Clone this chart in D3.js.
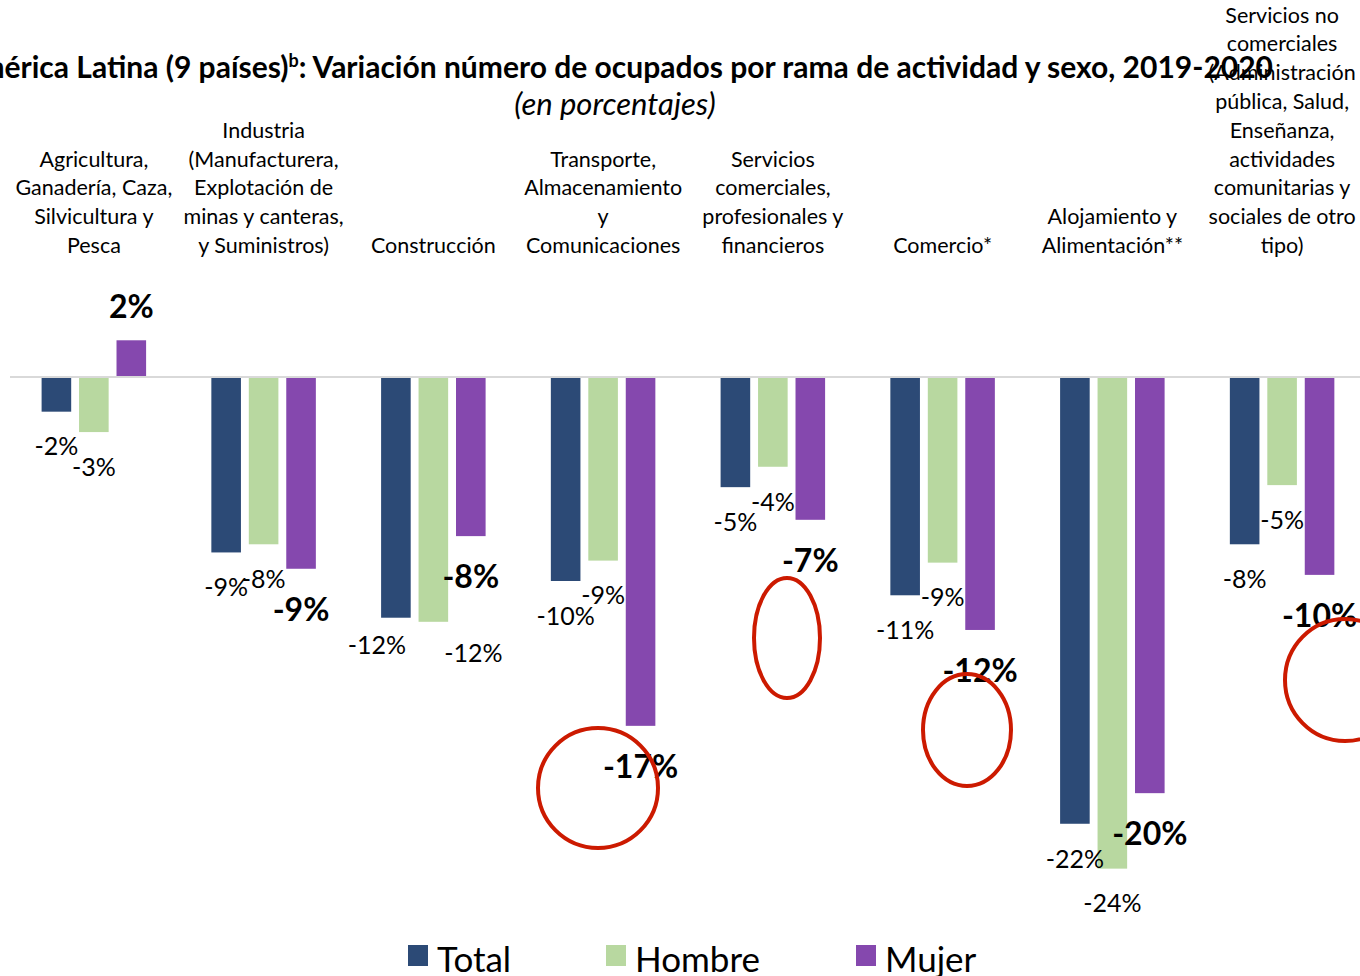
<!DOCTYPE html>
<html>
<head>
<meta charset="utf-8">
<script src="https://cdn.jsdelivr.net/npm/d3@7"></script>
<style>
  html, body { margin: 0; padding: 0; background: #fff; overflow: hidden; }
  text { font-family: Lato, "Open Sans", sans-serif; fill: #000; }
</style>
</head>
<body>
<div id="chart"></div>
<script>
// categories (each label split into its lines)
var categories = [
  ["Agricultura,", "Ganadería, Caza,", "Silvicultura y", "Pesca"],
  ["Industria", "(Manufacturera,", "Explotación de", "minas y canteras,", "y Suministros)"],
  ["Construcción"],
  ["Transporte,", "Almacenamiento", "y", "Comunicaciones"],
  ["Servicios", "comerciales,", "profesionales y", "financieros"],
  ["Comercio*"],
  ["Alojamiento y", "Alimentación**"],
  ["Servicios no", "comerciales", "(Administración", "pública, Salud,", "Enseñanza,", "actividades", "comunitarias y", "sociales de otro", "tipo)"]
];
var series = ["Total", "Hombre", "Mujer"];
var total  = [-1.7, -8.6, -11.8, -10.0, -5.4, -10.7, -21.9, -8.2];
var hombre = [-2.7, -8.2, -12.0, -9.0, -4.4, -9.1, -24.1, -5.3];
var mujer  = [1.8, -9.4, -7.8, -17.1, -7.0, -12.4, -20.4, -9.7];
var colours = ["#2c4a76", "#b8d8a0", "#8548ae"];

var W = 1360, H = 976;
var svg = d3.select("#chart").append("svg")
    .attr("width", W)
    .attr("height", H);

var keys = categories.map(function(c, i) { return "c" + i; });
var x0 = d3.scaleBand().domain(keys).range([9, 1367]);
var x1 = d3.scaleBand().domain(series).range([32.6, 137.1]).paddingInner(0.21);
var y = d3.scaleLinear().domain([-25, 3]).range([377 + 25 * 20.4, 377 - 3 * 20.4]);

var rows = [];
keys.forEach(function(k, i) {
  rows.push({key: k, s: "Total", v: total[i], i: i});
  rows.push({key: k, s: "Hombre", v: hombre[i], i: i});
  rows.push({key: k, s: "Mujer", v: mujer[i], i: i});
});
var colour = d3.scaleOrdinal().domain(series).range(colours);

// title, with the superscript b (runs off the left edge like the original)
var title = svg.append("text")
    .attr("x", 1273).attr("y", 78)
    .attr("text-anchor", "end")
    .style("font-weight", "bold")
    .style("font-size", "30px");
title.append("tspan").text("América Latina (9 países)");
title.append("tspan").attr("dy", -11).style("font-size", "18px").text("b");
title.append("tspan").attr("dy", 11).text(": Variación número de ocupados por rama de actividad y sexo, 2019-2020");

svg.append("text")
    .attr("x", 615).attr("y", 115)
    .attr("text-anchor", "middle")
    .style("font-style", "italic")
    .style("font-size", "31px")
    .text("(en porcentajes)");

// category labels, bottom aligned
var lineH = 28.8;
var cat = svg.append("g").selectAll("text")
    .data(categories)
    .enter().append("text")
    .attr("text-anchor", "middle")
    .style("font-size", "21.5px")
    .attr("x", function(d, i) { return x0(keys[i]) + x0.bandwidth() / 2; })
    .attr("y", function(d) { return 253 - (d.length - 1) * lineH; });
cat.selectAll("tspan")
    .data(function(d, i) { return d.map(function(l) { return {l: l, i: i}; }); })
    .enter().append("tspan")
    .attr("x", function(d) { return x0(keys[d.i]) + x0.bandwidth() / 2; })
    .attr("dy", function(d, j) { return j ? lineH : 0; })
    .text(function(d) { return d.l; });

// zero line
svg.append("line")
    .attr("x1", 10).attr("x2", W)
    .attr("y1", y(0)).attr("y2", y(0))
    .attr("stroke", "#d9d9d9")
    .attr("stroke-width", 2);

// bars
svg.append("g").selectAll("rect")
    .data(rows)
    .enter().append("rect")
    .attr("x", function(d) { return x0(d.key) + x1(d.s); })
    .attr("width", x1.bandwidth())
    .attr("y", function(d) { return Math.min(y(d.v), y(0) + 1); })
    .attr("height", function(d) { return Math.abs(y(d.v) - y(0)) - 1; })
    .attr("fill", function(d) { return colour(d.s); });

// label nudges (Excel moved a few of them)
var nudge = {"2Total": [-19, -7], "2Hombre": [40, -4]};

svg.append("g").selectAll("text")
    .data(rows)
    .enter().append("text")
    .attr("text-anchor", "middle")
    .attr("dy", "0.35em")
    .style("font-size", function(d) { return d.s == "Mujer" ? "32px" : "25px"; })
    .style("font-weight", function(d) { return d.s == "Mujer" ? "bold" : "normal"; })
    .attr("x", function(d) {
      var n = nudge[d.i + d.s] || [0, 0];
      return x0(d.key) + x1(d.s) + x1.bandwidth() / 2 + n[0];
    })
    .attr("y", function(d) {
      var n = nudge[d.i + d.s] || [0, 0];
      if (d.v > 0) return y(d.v) - 33;
      return y(d.v) + (d.s == "Mujer" ? 41 : 35) + n[1];
    })
    .text(function(d) { return Math.round(d.v) + "%"; });

// red annotation circles drawn over the chart
var rings = [
  {cx: 598, cy: 788, rx: 60, ry: 60},
  {cx: 787, cy: 638, rx: 33, ry: 60},
  {cx: 967, cy: 730, rx: 44, ry: 56},
  {cx: 1345, cy: 680, rx: 60, ry: 61}
];
svg.append("g").selectAll("ellipse")
    .data(rings)
    .enter().append("ellipse")
    .attr("cx", function(d) { return d.cx; })
    .attr("cy", function(d) { return d.cy; })
    .attr("rx", function(d) { return d.rx; })
    .attr("ry", function(d) { return d.ry; })
    .attr("fill", "none")
    .attr("stroke", "#cc1a00")
    .attr("stroke-width", 4);

// legend
var leg = svg.append("g").selectAll("g")
    .data(series)
    .enter().append("g")
    .attr("transform", function(d, i) { return "translate(" + [408, 606, 856][i] + ",945)"; });
leg.append("rect")
    .attr("width", 20).attr("height", 21)
    .attr("fill", function(d) { return colour(d); });
leg.append("text")
    .attr("x", 29).attr("y", 27)
    .style("font-size", "35px")
    .text(function(d) { return d; });
</script>
</body>
</html>
